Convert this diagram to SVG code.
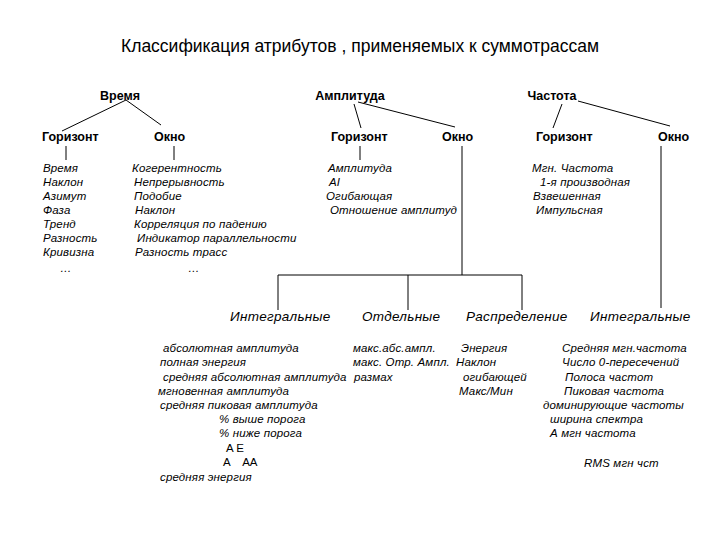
<svg xmlns="http://www.w3.org/2000/svg" width="720" height="540" viewBox="0 0 720 540">
<style>
text{font-family:"Liberation Sans",Arial,sans-serif;fill:#000}
.t{font-size:17.5px}
.h{font-size:12.5px;font-weight:bold}
.i{font-size:11.5px;font-style:italic;letter-spacing:0.15px}
.m{font-size:13.5px;font-style:italic;letter-spacing:0.3px}
.n{font-size:11.5px}
.c line{stroke:#000;stroke-width:1}
</style>
<rect width="720" height="540" fill="#fff"/>
<text class="t" x="360" y="52" text-anchor="middle">Классификация атрибутов , применяемых к суммотрассам</text>
<g id="vremya"><text class="h" x="120" y="100" text-anchor="middle">Время</text></g>
<g id="amplituda"><text class="h" x="350" y="100" text-anchor="middle">Амплитуда</text></g>
<g id="chastota"><text class="h" x="552" y="100" text-anchor="middle">Частота</text></g>
<g id="v-gor"><text class="h" x="42" y="141">Горизонт</text>
<text class="i" x="43" y="172">Время</text><text class="i" x="43" y="186">Наклон</text><text class="i" x="43" y="200">Азимут</text><text class="i" x="43" y="214">Фаза</text><text class="i" x="43" y="228">Тренд</text><text class="i" x="43" y="242">Разность</text><text class="i" x="43" y="256">Кривизна</text><text class="i" x="60" y="272">…</text></g>
<g id="v-okno"><text class="h" x="154" y="141">Окно</text>
<text class="i" x="132" y="172">Когерентность</text><text class="i" x="134" y="186">Непрерывность</text><text class="i" x="134" y="200">Подобие</text><text class="i" x="135" y="214">Наклон</text><text class="i" x="134" y="228">Корреляция по падению</text><text class="i" x="137" y="242">Индикатор параллельности</text><text class="i" x="135" y="256">Разность трасс</text><text class="i" x="188" y="272">…</text></g>
<g id="a-gor"><text class="h" x="331" y="141">Горизонт</text>
<text class="i" x="328" y="172">Амплитуда</text><text class="i" x="329" y="186">AI</text><text class="i" x="326" y="200">Огибающая</text><text class="i" x="330" y="214">Отношение амплитуд</text></g>
<g id="a-okno"><text class="h" x="442" y="141">Окно</text></g>
<g id="c-gor"><text class="h" x="536" y="141">Горизонт</text>
<text class="i" x="532" y="172">Мгн. Частота</text><text class="i" x="540" y="186">1-я производная</text><text class="i" x="533" y="200">Взвешенная</text><text class="i" x="536" y="214">Импульсная</text></g>
<g id="c-okno"><text class="h" x="658" y="141">Окно</text></g>
<g id="integr"><text class="m" x="230" y="321">Интегральные</text>
<text class="i" x="163" y="352">абсолютная амплитуда</text><text class="i" x="160" y="366">полная энергия</text><text class="i" x="163" y="381">средняя абсолютная амплитуда</text><text class="i" x="158" y="395">мгновенная амплитуда</text><text class="i" x="160" y="409">средняя пиковая амплитуда</text><text class="i" x="219" y="423">% выше порога</text><text class="i" x="219" y="437">% ниже порога</text><text class="n" x="226" y="452">A  E</text><text class="n" x="223" y="466" xml:space="preserve">A    AA</text><text class="i" x="160" y="481">средняя энергия</text></g>
<g id="otdel"><text class="m" x="362" y="321">Отдельные</text>
<text class="i" x="353" y="352">макс.абс.ампл.</text><text class="i" x="353" y="366">макс. Отр. Ампл.</text><text class="i" x="354" y="381">размах</text></g>
<g id="raspr"><text class="m" x="466" y="321">Распределение</text>
<text class="i" x="461" y="352">Энергия</text><text class="i" x="456" y="366">Наклон</text><text class="i" x="463" y="381">огибающей</text><text class="i" x="459" y="395">Макс/Мин</text></g>
<g id="c-integr"><text class="m" x="590" y="321">Интегральные</text>
<text class="i" x="562" y="352">Средняя мгн.частота</text><text class="i" x="562" y="366">Число 0-пересечений</text><text class="i" x="565" y="381">Полоса частот</text><text class="i" x="564" y="395">Пиковая частота</text><text class="i" x="543" y="409">доминирующие частоты</text><text class="i" x="550" y="423">ширина спектра</text><text class="i" x="550" y="437">А мгн частота</text><text class="i" x="584" y="467">RMS мгн чст</text></g>
<g class="c" id="connectors">
<line x1="126" y1="100" x2="62" y2="131"/><line x1="126" y1="100" x2="161" y2="125"/>
<line x1="354" y1="104" x2="361" y2="128"/><line x1="358" y1="102" x2="455" y2="127"/>
<line x1="562" y1="104" x2="553" y2="128"/><line x1="578" y1="101" x2="670" y2="126"/>
<line x1="66" y1="146" x2="66" y2="160"/><line x1="174" y1="146" x2="174" y2="160"/><line x1="360" y1="146" x2="360" y2="160"/>
<line x1="462" y1="146" x2="462" y2="275"/><line x1="278" y1="275" x2="522" y2="275"/>
<line x1="278" y1="275" x2="278" y2="310"/><line x1="408" y1="275" x2="408" y2="310"/><line x1="522" y1="275" x2="522" y2="310"/>
<line x1="661" y1="146" x2="661" y2="308"/>
</g>
</svg>
